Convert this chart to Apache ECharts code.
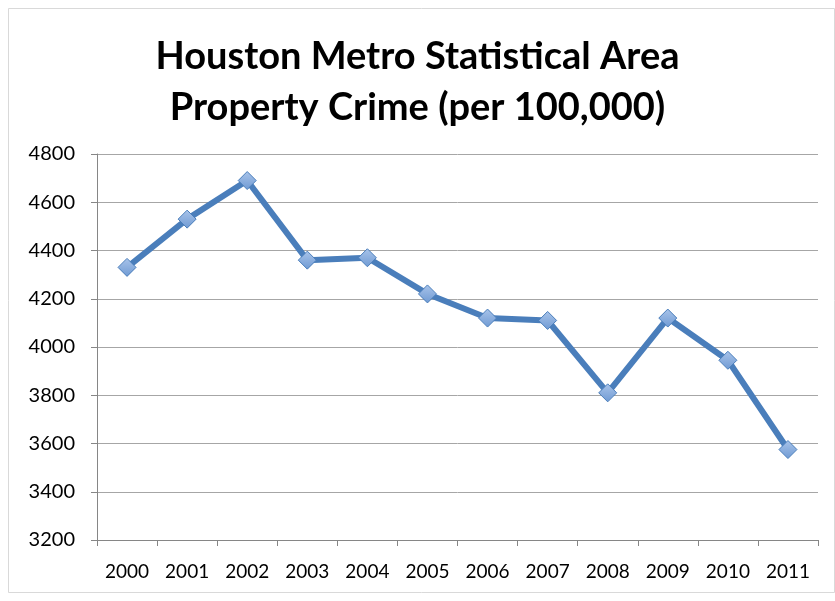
<!DOCTYPE html>
<html><head><meta charset="utf-8">
<script src="https://cdn.jsdelivr.net/npm/echarts@6/dist/echarts.min.js"></script>
<style>html,body{margin:0;padding:0;background:#fff}#c{width:835px;height:601px}</style>
</head><body><div id="c"></div>
<script>
const titleLines = ['Houston Metro Statistical Area', 'Property Crime (per 100,000)'];
const years = ['2000','2001','2002','2003','2004','2005','2006','2007','2008','2009','2010','2011'];
const propertyCrime = [4330, 4530, 4690, 4360, 4370, 4220, 4120, 4110, 3810, 4120, 3945, 3575];
const yMin = 3200, yMax = 4800, yStep = 200;

const chart = echarts.init(document.getElementById('c'), null, {renderer: 'canvas'});
chart.setOption({
  backgroundColor: '#ffffff',
  animation: false,
  title: {
    text: titleLines.join('\n'),
    left: 'center', top: 26,
    textStyle: {fontFamily: 'Lato', fontWeight: 'bold', fontSize: 38, lineHeight: 51, color: '#000'}
  },
  graphic: [{type: 'rect', shape: {x: 8.5, y: 8.5, width: 826, height: 584}, style: {fill: 'none', stroke: '#d9d9d9', lineWidth: 1}, silent: true}],
  grid: {left: 97, right: 17, top: 154, bottom: 61},
  xAxis: {
    type: 'category', data: years, boundaryGap: true,
    axisLine: {lineStyle: {color: '#868686', width: 1}},
    axisTick: {show: true, alignWithLabel: false, interval: 0, length: 6, lineStyle: {color: '#868686'}},
    axisLabel: {fontFamily: 'Lato', fontSize: 19, color: '#000', margin: 22, interval: 0, hideOverlap: false}
  },
  yAxis: {
    type: 'value', min: yMin, max: yMax, interval: yStep,
    axisLine: {show: true, lineStyle: {color: '#868686', width: 1}},
    axisTick: {show: true, length: 6, lineStyle: {color: '#868686'}},
    axisLabel: {fontFamily: 'Lato', fontSize: 20, color: '#000', margin: 22, formatter: v => String(v)},
    splitLine: {lineStyle: {color: '#a6a6a6', width: 1}}
  },
  series: [{
    type: 'line', data: propertyCrime,
    lineStyle: {color: '#4A7EBB', width: 6},
    symbol: 'diamond', symbolSize: 18,
    itemStyle: {
      color: new echarts.graphic.LinearGradient(0, 0, 0, 1, [{offset: 0, color: '#a9c4ea'}, {offset: 1, color: '#6f9ad3'}]),
      borderColor: '#4A7EBB', borderWidth: 1
    }
  }]
});
</script></body></html>
